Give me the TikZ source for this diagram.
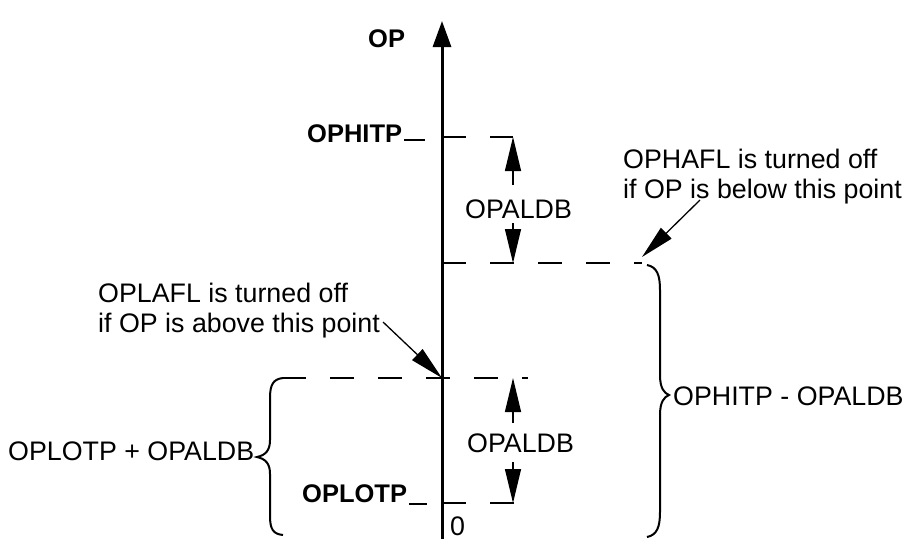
\documentclass[tikz,border=0pt]{standalone}
\usepackage{fontspec}
\setmainfont{Liberation Sans}
\usetikzlibrary{arrows.meta}
\begin{document}
\begin{tikzpicture}[x=1pt,y=-1pt,
  lbl/.style={inner sep=0pt,anchor=base west,font=\fontsize{26.8}{29.5}\selectfont},
  blbl/.style={inner sep=0pt,anchor=base west,font=\fontsize{25.5}{29.5}\selectfont\bfseries},
  axisline/.style={line width=3pt,-{Triangle[length=26pt,width=18pt]}},
  dashline/.style={line width=2pt,dash pattern=on 23.5pt off 24.5pt},
  dimarrow/.style={line width=1.3pt,-{Triangle[length=34pt,width=16pt]}},
  callout/.style={line width=1.3pt,-{Triangle[length=34pt,width=15pt]}},
  bracepath/.style={line width=2pt},
  tickline/.style={line width=2pt}]
\useasboundingbox (0,0) rectangle (904,539);

% axis
\coordinate (axbot) at (442,539);
\coordinate (axtop) at (442,21);
\draw[axisline] (axbot) -- (axtop);
\node[blbl] (op) at (368,47) {OP};
\node[lbl] (zero) at (450,535) {0};

% level lines
\coordinate (hitpA) at (442,137);  \coordinate (hitpB) at (513,137);
\coordinate (midA) at (442,263);   \coordinate (midB) at (642,263);
\coordinate (lowA) at (282,378);   \coordinate (lowB) at (528,378);
\coordinate (lotpA) at (442,503);  \coordinate (lotpB) at (515,503);
\draw[dashline] (hitpA) -- (hitpB);
\draw[dashline] (midA) -- (midB);
\draw[dashline] (lowA) -- (lowB);
\draw[dashline] (lotpA) -- (lotpB);

% level labels
\node[blbl] (ophitp) at (307,142) {OPHITP};
\coordinate (ophitpT) at (425,140);
\draw[tickline] (ophitp.base east) ++(2,-2) -- (ophitpT);
\node[blbl] (oplotp) at (302,502) {OPLOTP};
\coordinate (oplotpT) at (427,504);
\draw[tickline] (oplotp.base east) ++(2,2) -- (oplotpT);

% upper dimension
\node[lbl] (db1) at (465,218) {OPALDB};
\coordinate (db1t) at (513,185); \coordinate (db1b) at (513,223);
\coordinate (db1top) at (513,137); \coordinate (db1bot) at (513,263);
\draw[dimarrow] (db1t) -- (db1top);
\draw[dimarrow] (db1b) -- (db1bot);

% lower dimension
\node[lbl] (db2) at (467,452) {OPALDB};
\coordinate (db2t) at (513,423); \coordinate (db2b) at (513,462);
\coordinate (db2top) at (513,378); \coordinate (db2bot) at (513,503);
\draw[dimarrow] (db2t) -- (db2top);
\draw[dimarrow] (db2b) -- (db2bot);

% callouts
\node[lbl,align=left] (hafl) at (623,198) {OPHAFL is turned off\\if OP is below this point};
\coordinate (haflS) at (700,200); \coordinate (haflE) at (642,257);
\draw[callout] (haflS) -- (haflE);
\node[lbl,align=left] (lafl) at (98,332) {OPLAFL is turned off\\if OP is above this point};
\coordinate (laflS) at (383,322); \coordinate (laflE) at (442,378);
\draw[callout] (laflS) -- (laflE);

% right brace
\draw[bracepath] (647,265) .. controls (657,267) and (660,275) .. (660,290) -- (660,375)
  .. controls (660,388) and (664,393) .. (669,395)
  .. controls (664,397) and (660,402) .. (660,415) -- (660,512)
  .. controls (660,527) and (657,535) .. (647,537);
\node[lbl] (rbr) at (673,405) {OPHITP - OPALDB};

% left brace
\draw[bracepath] (283,378) .. controls (273,379) and (270,385) .. (270,398) -- (270,440)
  .. controls (270,450) and (266,455) .. (257,457)
  .. controls (266,459) and (270,464) .. (270,474) -- (270,516)
  .. controls (270,529) and (273,534) .. (283,535);
\node[lbl] (lbr) at (8,460) {OPLOTP + OPALDB};
\end{tikzpicture}
\end{document}
